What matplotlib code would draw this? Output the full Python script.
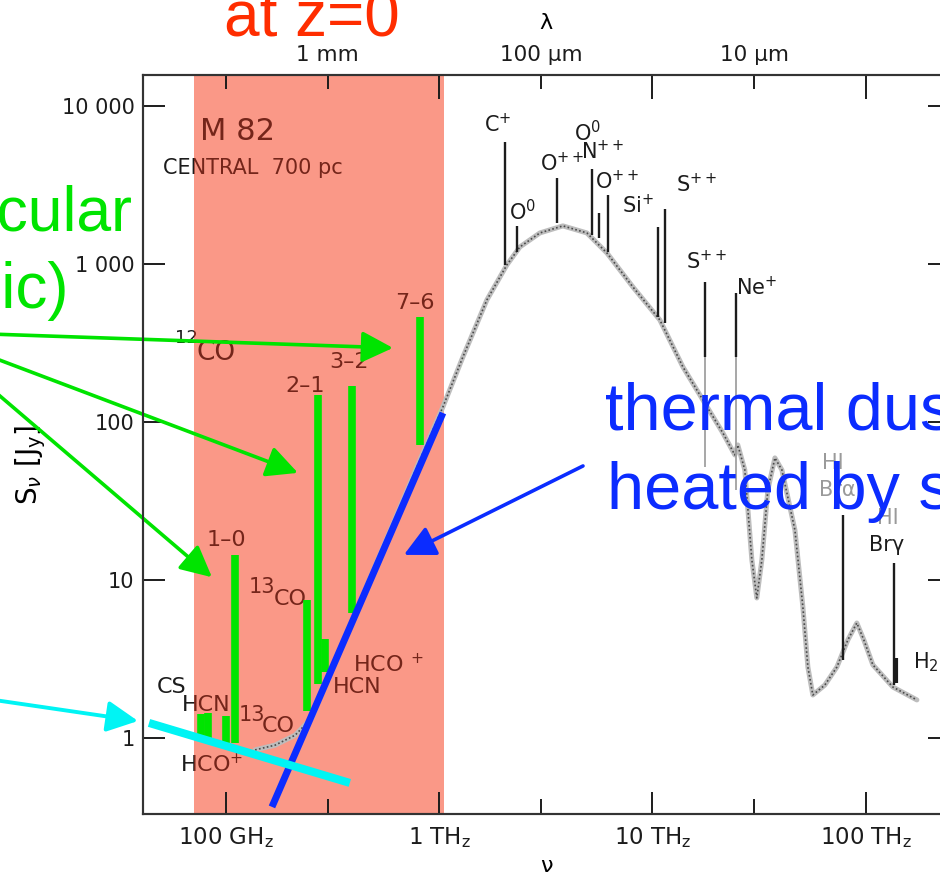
"""M 82 central 700 pc spectrum, with the slide's coloured overlays."""

import matplotlib

matplotlib.use("Agg")

import matplotlib.pyplot as plt
from matplotlib.patches import Rectangle
from matplotlib.ticker import NullFormatter, NullLocator
from matplotlib.transforms import blended_transform_factory

C_UM_GHZ = 299792.458  # lambda [um] * nu [GHz]

# ---- scanned spectrum: nu in GHz, S_nu in Jy ----
dust_nu = [137, 170, 211, 253, 342, 527, 812, 1040, 1292, 1674, 2077, 2390,
           2966, 3802, 4925, 6113, 8094, 10830, 13890, 17220, 21380, 24340,
           25120, 27100, 29240, 30850, 32580, 34750, 37500, 40440, 46550,
           50720, 53540, 56490, 64280, 73230, 82430, 90820, 97970, 108000,
           134000, 173700]
dust_s = [0.84, 0.90, 1.04, 1.34, 3.6, 14.4, 57.5, 124, 258, 592, 986, 1281,
          1571, 1741, 1571, 1174, 715, 442, 223, 138, 85.2, 61.8,
          71.5, 49.7, 13.4, 7.69, 13.4, 37.1, 59.2, 49.7, 20.7,
          6.75, 2.81, 1.87, 2.16, 2.81, 4.17, 5.34, 4.17, 2.90,
          2.10, 1.74]

# fine-structure lines: frequency, top of line, foot on the continuum
ion_nu = [2032, 2314, 3564, 5200, 5606, 6180, 10600, 11430, 17620, 24600]
ion_top = [5916, 1741, 3501, 3993, 2103, 2733, 1714, 2229, 769, 655]
ion_foot = [986, 1191, 1817, 1527, 1461, 1191, 462, 423, 258, 258]
faint_nu = [17620, 24600]
faint_lo = [51.9, 37.1]
faint_hi = [258, 258]

# Br alpha, Br gamma, H2
rec_nu = [78140, 135400]
rec_top = [25.8, 12.8]
rec_foot = [3.12, 2.17]
h2_nu = [138400]
h2_top = [3.21]
h2_foot = [2.23]

ion_labels = ["C$^{+}$", "O$^{0}$", "O$^{++}$", "O$^{0}$", "N$^{++}$",
              "O$^{++}$", "Si$^{+}$", "S$^{++}$", "S$^{++}$", "Ne$^{+}$"]
ion_label_nu = [1884, 2468, 3761, 4980, 5850, 6808, 8547, 16150, 17990, 30850]
ion_label_s = [7580, 2133, 4356, 6745, 5117, 3304, 2329, 3162, 1030, 705]

rec_labels = ["Br\u03b1", "Br\u03b3", "H$_2$"]
rec_label_nu = [73230, 125600, 166300]
rec_label_s = [37.1, 16.6, 3.03]
hi_label_nu = [70140, 127000]
hi_label_s = [55.0, 24.7]

co_labels = ["7\u20136", "3\u20132", "2\u20131", "1\u20130"]
co_label_nu = [769, 377, 235, 100]
co_label_s = [566, 240, 169, 17.9]

# ---- overlays ----
mol_nu = [76.4, 82.4, 100, 110, 240, 270, 293, 390, 811]
mol_lo = [0.97, 0.93, 0.877, 0.93, 1.48, 2.2, 2.62, 6.18, 71.5]
mol_hi = [1.42, 1.44, 1.38, 14.4, 7.47, 148, 4.23, 169, 462]

rj_nu = [164.4, 1041]
rj_s = [0.366, 114]
ff_nu = [43.6, 381]
ff_s = [1.244, 0.519]

band_nu = [70.8, 1052]

co_arrow_nu = [607, 217.5, 86]
co_arrow_s = [294, 47.6, 10.4]
dust_arrow_tip = (683, 14.4)
ff_arrow_tip = (38.7, 1.28)

# ---- axes ----
nu_ticks = [100, 1000, 10000, 100000]
nu_tick_labels = [r"100 GH$_\mathrm{z}$", r"1 TH$_\mathrm{z}$",
                  r"10 TH$_\mathrm{z}$", r"100 TH$_\mathrm{z}$"]
nu_minor = [300, 3000, 30000]
s_ticks = [1, 10, 100, 1000, 10000]
s_tick_labels = ["1", "10", "100", "1 000", "10 000"]
lam_ticks_um = [3000, 1000, 100, 10]
lam_tick_labels = ["", "1 mm", "100 \u00b5m", "10 \u00b5m"]
lam_minor_um = [300, 30, 3]

INK = "#1c1c1c"
INK_RED = "#74251a"
BAND = "#fa9887"
GREEN = "#00e400"
BLUE = "#0b2cff"
CYAN = "#00f4f4"
RED = "#ff2d00"

fig = plt.figure(figsize=(9.4, 8.8), dpi=100)
ax = fig.add_axes([0.152, 0.075, 0.8585, 0.8398])
ax.set_xscale("log")
ax.set_yscale("log")
ax.set_xlim(40.8, 2.48e5)
ax.set_ylim(0.33, 1.57e4)

ax.axvspan(band_nu[0], band_nu[1], color=BAND, lw=0, zorder=0.5)

# stippled continuum of the scan
ax.plot(dust_nu, dust_s, color="#bdbdbd", lw=3.6, zorder=1.5,
        solid_capstyle="round", solid_joinstyle="round")
ax.plot(dust_nu, dust_s, color="#4a4a4a", lw=1.2, ls=(0, (1, 1.4)), zorder=1.6)

ax.vlines(ion_nu, ion_foot, ion_top, color=INK, lw=1.7, zorder=2)
ax.vlines(faint_nu, faint_lo, faint_hi, color="#a0a0a0", lw=1.3, zorder=2)
ax.vlines(rec_nu, rec_foot, rec_top, color=INK, lw=1.7, zorder=2)
ax.vlines(h2_nu, h2_foot, h2_top, color=INK, lw=3, zorder=2)

clip_trans = blended_transform_factory(ax.transData, ax.transAxes)
regions = [(INK, 1.0, band_nu[0]), (INK_RED, band_nu[0], band_nu[1]),
           (INK, band_nu[1], 1e7)]


def scan_text(nu, s, text, size=15, ha="center", color=None):
    """Text of the scanned figure: black on white, dark red under the band."""
    if color is not None:
        ax.text(nu, s, text, size=size, ha=ha, va="center", color=color, zorder=2)
        return
    for ink, lo, hi in regions:
        t = ax.text(nu, s, text, size=size, ha=ha, va="center", color=ink,
                    zorder=2, clip_on=True)
        t.set_clip_path(Rectangle((lo, -1), hi - lo, 3, transform=clip_trans))


for text, nu, s in zip(ion_labels, ion_label_nu, ion_label_s):
    scan_text(nu, s, text)
scan_text(rec_label_nu[0], rec_label_s[0], rec_labels[0], color="#9a9a9a")
scan_text(rec_label_nu[1], rec_label_s[1], rec_labels[1])
scan_text(rec_label_nu[2], rec_label_s[2], rec_labels[2], ha="left")
for nu, s in zip(hi_label_nu, hi_label_s):
    scan_text(nu, s, "HI", color="#9a9a9a")
for text, nu, s in zip(co_labels, co_label_nu, co_label_s):
    scan_text(nu, s, text, size=16)

scan_text(75.5, 6840, "M 82", size=22, ha="left")
scan_text(50.7, 4053, "CENTRAL  700 pc", size=15, ha="left")
scan_text(65.6, 340, "12", size=13)
scan_text(73.1, 273, "CO", size=19, ha="left")
scan_text(147.5, 9.03, "13", size=15)
scan_text(168, 7.58, "CO", size=16, ha="left")
scan_text(132.4, 1.40, "13", size=15)
scan_text(147.5, 1.19, "CO", size=16, ha="left")
scan_text(55.8, 2.10, "CS", size=16)
scan_text(80.6, 1.62, "HCN", size=16)
scan_text(60.9, 0.684, "HCO$^{+}$", size=16, ha="left")
scan_text(394, 2.90, "HCO $^{+}$", size=16, ha="left")
scan_text(317.6, 2.10, "HCN", size=16, ha="left")

# highlighted lines and continuum slopes
ax.vlines(mol_nu, mol_lo, mol_hi, color=GREEN, lw=5.5, zorder=3)
ax.plot(rj_nu, rj_s, color=BLUE, lw=5, solid_capstyle="butt", zorder=4)
ax.plot(ff_nu, ff_s, color=CYAN, lw=5.8, solid_capstyle="butt", zorder=4,
        clip_on=False)

head = "-|>,head_length=1.9,head_width=0.95"
for nu, s in zip(co_arrow_nu, co_arrow_s):
    ax.annotate("", xy=(nu, s), xytext=(-0.08, 0.623), textcoords="figure fraction",
                arrowprops=dict(arrowstyle=head, mutation_scale=10, color=GREEN,
                                lw=2.6, shrinkA=0, shrinkB=0),
                annotation_clip=False, zorder=5)
ax.annotate("", xy=dust_arrow_tip, xytext=(0.6202, 0.4705), textcoords="figure fraction",
            arrowprops=dict(arrowstyle=head, mutation_scale=10, color=BLUE,
                            lw=2.6, shrinkA=0, shrinkB=0),
            annotation_clip=False, zorder=5)
ax.annotate("", xy=ff_arrow_tip, xytext=(-0.064, 0.2136), textcoords="figure fraction",
            arrowprops=dict(arrowstyle=head, mutation_scale=10, color=CYAN,
                            lw=2.8, shrinkA=0, shrinkB=0),
            annotation_clip=False, zorder=5)

# axes dressing
ax.set_xticks(nu_ticks, nu_tick_labels)
ax.set_xticks(nu_minor, minor=True)
ax.xaxis.set_minor_formatter(NullFormatter())
ax.set_yticks(s_ticks, s_tick_labels)
ax.yaxis.set_minor_locator(NullLocator())
ax.tick_params(axis="x", which="major", direction="in", length=16, width=1.4,
               labelsize=16.5, pad=8, top=False, colors=INK)
ax.tick_params(axis="x", which="minor", direction="in", length=11, width=1.4,
               top=False, colors=INK)
ax.tick_params(axis="y", which="major", direction="in", length=16, width=1.4,
               labelsize=15, pad=6, right=True, colors=INK)
ax.set_xlabel("\u03bd", fontsize=16, labelpad=4)
ax.set_ylabel(r"S$_\nu$ [J$_\mathrm{y}$]", fontsize=20)
ax.yaxis.set_label_coords(-0.118, 0.472)

top = ax.twiny()
top.set_xscale("log")
top.set_xlim(ax.get_xlim())
top.set_xticks([C_UM_GHZ / lam for lam in lam_ticks_um], lam_tick_labels)
top.set_xticks([C_UM_GHZ / lam for lam in lam_minor_um], minor=True)
top.xaxis.set_minor_formatter(NullFormatter())
top.tick_params(axis="x", which="major", direction="in", length=10, width=1.4,
                labelsize=15.5, pad=7, bottom=False, colors=INK)
top.tick_params(axis="x", which="minor", direction="in", length=17, width=1.4,
                bottom=False, colors=INK)
top.set_xlabel("\u03bb", fontsize=16, labelpad=12)

for axis in (ax, top):
    for spine in axis.spines.values():
        spine.set_linewidth(1.5)
        spine.set_color("#333333")

# slide annotations (their beginnings run off the left/top edge of the slide)
fig.text(0.332, 0.958, "at z=0", color=RED, fontsize=46,
         family="Liberation Sans", ha="center", va="baseline")
fig.text(0.1415, 0.7386, "molecular", color=GREEN, fontsize=45,
         family="Liberation Sans", ha="right", va="baseline")
fig.text(0.0735, 0.650, "(atomic)", color=GREEN, fontsize=46,
         family="Liberation Sans", ha="right", va="baseline")
fig.text(0.6436, 0.5114, "thermal dust", color=BLUE, fontsize=48,
         family="Liberation Sans", ha="left", va="baseline")
fig.text(0.6457, 0.4216, "heated by stars", color=BLUE, fontsize=48,
         family="Liberation Sans", ha="left", va="baseline")

fig.savefig("out.png", dpi=100)
